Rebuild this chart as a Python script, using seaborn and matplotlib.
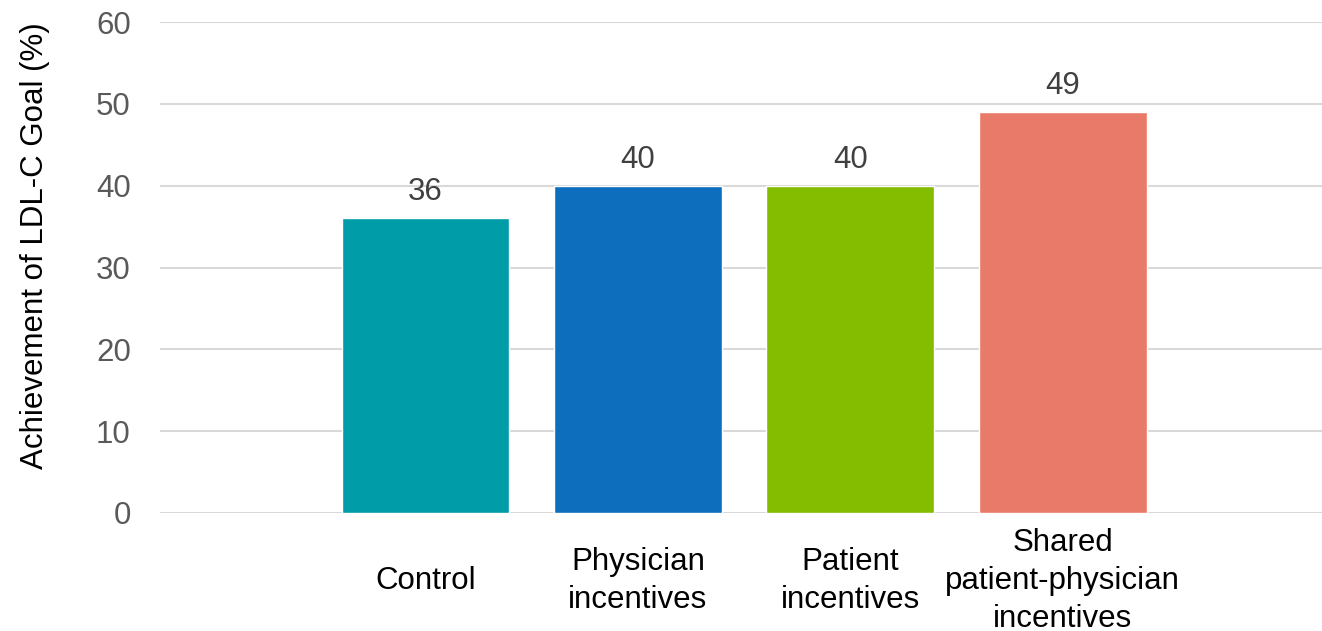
import matplotlib
matplotlib.use("Agg")
import matplotlib.pyplot as plt
import seaborn as sns
import pandas as pd

# Share of patients reaching the LDL-C goal in each study arm
groups = ["Control", "Physician\nincentives", "Patient\nincentives",
          "Shared\npatient-physician\nincentives"]
achievement = [36, 40, 40, 49]
bar_colors = ["#009CA8", "#0E6EBE", "#84BC00", "#E97A69"]
y_ticks = [0, 10, 20, 30, 40, 50, 60]

df = pd.DataFrame({"group": groups, "achievement": achievement})

sns.set_theme(style="white")
plt.rcParams["font.family"] = ["Liberation Sans", "DejaVu Sans"]

fig = plt.figure(figsize=(13.22, 6.31), dpi=100)
ax = fig.add_axes([160 / 1322, 1 - 513 / 631, 1 - 160 / 1322, (513 - 22) / 631])

sns.barplot(data=df, x="group", y="achievement", hue="group",
            palette=bar_colors, width=0.79, legend=False, saturation=1,
            ax=ax, zorder=3)

for cont in ax.containers:
    ax.bar_label(cont, fmt="%d", padding=8, fontsize=22.5, color="#404040")

ax.set_ylim(0, 60)
ax.set_yticks(y_ticks)
ax.set_xlim(-1.25, 4.22)
ax.yaxis.grid(True, color="#D9D9D9", linewidth=1.5, zorder=0)
ax.set_axisbelow(True)
for s in ax.spines.values():
    s.set_visible(False)

ax.tick_params(axis="y", length=0, pad=21, labelsize=22.5, labelcolor="#595959")
ax.tick_params(axis="x", length=0, pad=49, labelsize=22.5, labelcolor="#000000")
for lbl in ax.get_xticklabels():
    lbl.set_verticalalignment("center")
    lbl.set_linespacing(1.33)

ax.set_xlabel("")
ax.set_ylabel("Achievement of LDL-C Goal (%)", fontsize=22.5, color="#000000")
ax.yaxis.set_label_coords(-(160 - 50) / (1322 - 160), (513 - 246) / (513 - 22))

fig.savefig("out.png", dpi=100)
